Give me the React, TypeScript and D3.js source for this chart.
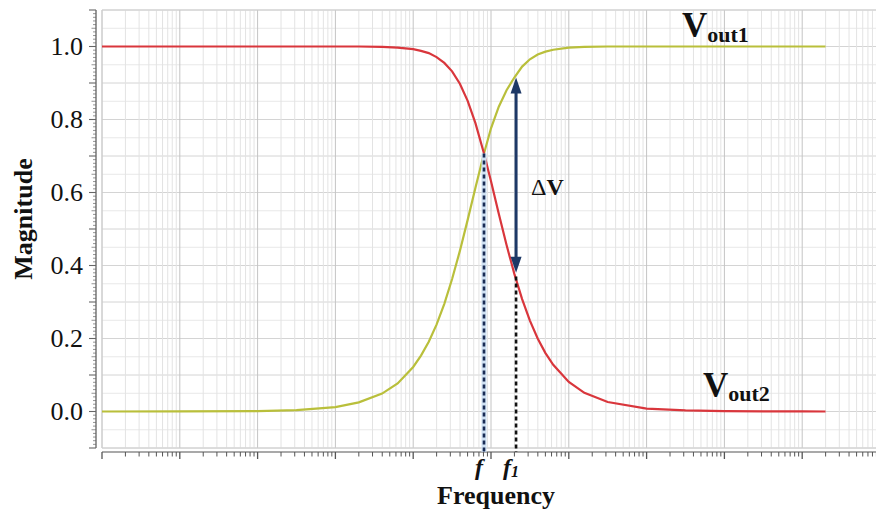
import React from "react";
import * as d3 from "d3";

// frequency samples (Hz) and magnitudes
const freqs = [1, 10, 100, 316, 1000, 2000, 3981, 6310, 10000, 12589, 15849, 19953, 25119, 31623, 39811, 50119, 63096, 81283, 100000, 125893, 158489, 199526, 251189, 316228, 398107, 501187, 630957, 1000000, 1584893, 3162278, 10000000, 31622777, 100000000, 1000000000, 1995262315];
const vout1 = [0.00001, 0.0001, 0.001, 0.004, 0.012, 0.025, 0.049, 0.077, 0.122, 0.153, 0.191, 0.238, 0.295, 0.363, 0.44, 0.525, 0.613, 0.707, 0.776, 0.835, 0.88, 0.915, 0.945, 0.965, 0.978, 0.986, 0.991, 0.997, 0.999, 1.0, 1.0, 1.0, 1.0, 1.0, 1.0];
const vout2 = [1.0, 1.0, 1.0, 1.0, 1.0, 1.0, 0.999, 0.997, 0.993, 0.988, 0.982, 0.971, 0.955, 0.932, 0.898, 0.851, 0.79, 0.707, 0.631, 0.542, 0.456, 0.377, 0.308, 0.249, 0.2, 0.16, 0.128, 0.081, 0.051, 0.026, 0.008, 0.003, 0.001, 0.0001, 0.00004];

const yTickLabels = ["0.0", "0.2", "0.4", "0.6", "0.8", "1.0"];
const fCross = 81283;
const vCross = 0.707;
const f1 = 210000;
const f1Value = 0.37;
const deltaTop = 0.915;
const deltaBottom = 0.38;

const W = 876;
const H = 511;
const serif = "'Liberation Serif', 'Times New Roman', serif";

export default function App() {
  const x = d3.scaleLog().domain([1, 1e10]).range([102, 880]);
  const y = d3.scaleLinear().domain([-0.1, 1.1]).range([448, 10]);
  const plotL = 102, plotR = 880, plotT = 10, plotB = 448;
  const axisY = 452, axisX = 96;

  const vGrid: { v: number; major: boolean }[] = [];
  for (let d = 0; d < 10; d++) {
    for (let k = 1; k <= 9; k++) vGrid.push({ v: k * Math.pow(10, d), major: k === 1 });
  }
  const hGrid: { v: number; major: boolean }[] = [];
  for (let i = -2; i <= 22; i++) hGrid.push({ v: i * 0.05, major: i % 2 === 0 });

  const yMinor = d3.range(-10, 111).map((i) => i / 100);

  const line = d3
    .line<[number, number]>()
    .x((d) => x(d[0]))
    .y((d) => y(d[1]));
  const d1 = line(freqs.map((f, i) => [f, vout1[i]]) as [number, number][]) || "";
  const d2 = line(freqs.map((f, i) => [f, vout2[i]]) as [number, number][]) || "";

  const ax = x(f1);
  const yTop = y(deltaTop);
  const yBot = y(deltaBottom);
  const headL = 16, headW = 5.5;
  const navy = "#1d3866";

  return (
    <svg
      width={W}
      height={H}
      style={{ position: "absolute", left: 0, top: 0, background: "#fff" }}
      fontFamily={serif}
    >
      <rect x={0} y={0} width={W} height={H} fill="#fff" />
      {/* grid */}
      {hGrid.map((g, i) => (
        <line key={"h" + i} x1={plotL} x2={plotR} y1={y(g.v)} y2={y(g.v)} stroke={g.major ? "#d4d4d4" : "#e8e8e8"} strokeWidth={1} />
      ))}
      {vGrid.map((g, i) => (
        <line key={"v" + i} x1={x(g.v)} x2={x(g.v)} y1={plotT} y2={plotB} stroke={g.major ? "#c4c4c4" : "#e3e3e3"} strokeWidth={1} />
      ))}
      <line x1={plotL} x2={plotR} y1={plotT} y2={plotT} stroke="#d0d0d0" />
      <line x1={plotL} x2={plotL} y1={plotT} y2={plotB} stroke="#d0d0d0" />
      <line x1={plotL} x2={plotR} y1={plotB} y2={plotB} stroke="#d0d0d0" />

      {/* y axis */}
      <line x1={axisX} x2={axisX} y1={plotT} y2={plotB} stroke="#555" strokeWidth={1.2} />
      {yMinor.map((v, i) => {
        const major = Math.round(v * 100) % 10 === 0;
        const half = Math.round(v * 100) % 5 === 0;
        const len = major ? 7 : half ? 4.5 : 3;
        return <line key={"yt" + i} x1={axisX - len} x2={axisX} y1={y(v)} y2={y(v)} stroke="#666" strokeWidth={major ? 1.1 : 0.7} />;
      })}
      {yTickLabels.map((t) => (
        <text key={t} x={83} y={y(+t)} dy="0.34em" textAnchor="end" fontSize={26} fill="#111">
          {t}
        </text>
      ))}

      {/* x axis */}
      <line x1={plotL} x2={plotR} y1={axisY} y2={axisY} stroke="#555" strokeWidth={1.2} />
      {vGrid.map((g, i) => (
        <line key={"xt" + i} x1={x(g.v)} x2={x(g.v)} y1={axisY} y2={axisY + (g.major ? 7 : 4.5)} stroke="#555" strokeWidth={g.major ? 1.3 : 1} />
      ))}
      <line x1={x(1e10) - 1} x2={x(1e10) - 1} y1={axisY} y2={axisY + 7} stroke="#555" />

      {/* curves */}
      <path d={d1} fill="none" stroke="#b9bf3b" strokeWidth={2.2} />
      <path d={d2} fill="none" stroke="#d9363c" strokeWidth={2.2} />

      {/* f marker */}
      <line x1={x(fCross)} x2={x(fCross)} y1={y(vCross)} y2={axisY} stroke="#cfe1f3" strokeWidth={5} />
      <line x1={x(fCross)} x2={x(fCross)} y1={y(vCross)} y2={axisY} stroke="#1a2c55" strokeWidth={2.6} strokeDasharray="4 3" />
      {/* f1 marker */}
      <line x1={ax} x2={ax} y1={y(f1Value)} y2={axisY} stroke="#111" strokeWidth={2.6} strokeDasharray="4 3" />

      {/* delta V arrow */}
      <line x1={ax} x2={ax} y1={yTop + headL - 2} y2={yBot - headL + 2} stroke={navy} strokeWidth={3} />
      <polygon points={`${ax},${yTop} ${ax - headW},${yTop + headL} ${ax + headW},${yTop + headL}`} fill={navy} />
      <polygon points={`${ax},${yBot} ${ax - headW},${yBot - headL} ${ax + headW},${yBot - headL}`} fill={navy} />
      <text x={531} y={195} fontSize={24} fill="#111">
        Δ<tspan fontWeight="bold">V</tspan>
      </text>

      {/* series labels */}
      <text x={682} y={37} fontSize={35} fontWeight="bold" fill="#111">
        V<tspan fontSize={22} dy={5}>out1</tspan>
      </text>
      <text x={703} y={397} fontSize={35} fontWeight="bold" fill="#111">
        V<tspan fontSize={22} dy={4}>out2</tspan>
      </text>

      {/* f labels */}
      <text x={475} y={475} fontSize={24} fontWeight="bold" fontStyle="italic" fill="#111">
        f
      </text>
      <text x={503} y={475} fontSize={24} fontWeight="bold" fontStyle="italic" fill="#111">
        f<tspan fontSize={16} dy={2}>1</tspan>
      </text>

      {/* axis titles */}
      <text x={496} y={504} textAnchor="middle" fontSize={26} fontWeight="bold" fill="#111">
        Frequency
      </text>
      <text transform={`translate(32,219) rotate(-90)`} textAnchor="middle" fontSize={26} fontWeight="bold" fill="#111">
        Magnitude
      </text>
    </svg>
  );
}
